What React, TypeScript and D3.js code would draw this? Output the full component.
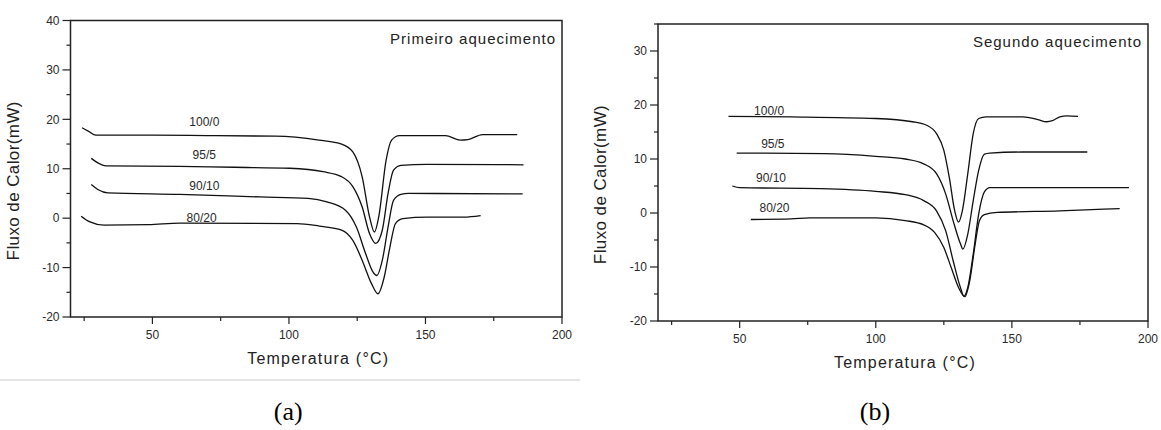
import * as d3 from 'd3'

// first heating (a): [temperature, heat flow]
const a100_0: [number, number][] = [
  [24.2, 18.3], [26.5, 17.6], [29.3, 16.8], [50, 16.8], [70, 16.7], [95, 16.6], [111, 15.8], [119.3, 15.0],
  [123.4, 13.4], [126.8, 8.4], [129.5, 0.3], [131.3, -2.8], [132.9, 0.3], [135.6, 11.8], [137.6, 15.8],
  [140.4, 16.7], [157.3, 16.7], [162.8, 15.8], [165.5, 15.9], [170.9, 16.9], [183.6, 16.9],
]
const a95_5: [number, number][] = [
  [27.6, 12.1], [30, 11.2], [33, 10.6], [60, 10.5], [80, 10.3], [100.3, 10.1], [112.5, 9.4], [119.3, 8.4],
  [123.4, 6.4], [126.8, 2.3], [129.5, -3.1], [131.8, -5.1], [134.2, -2.4], [136.3, 5.0], [138.3, 9.7],
  [141, 10.7], [150.5, 10.9], [185.9, 10.8],
]
const a90_10: [number, number][] = [
  [27.6, 6.8], [30, 5.8], [33.7, 5.1], [60, 4.8], [89.4, 4.3], [107, 4.0], [113.9, 3.3], [120.7, 1.6],
  [124.7, -1.8], [128.1, -7.2], [130.8, -10.9], [132.2, -11.6], [134.2, -8.5], [136.3, -1.8], [138.3, 3.6],
  [141, 4.8], [143.8, 5.0], [185.6, 4.9],
]
const a80_20: [number, number][] = [
  [23.9, 0.4], [26.9, -0.7], [32.3, -1.4], [48.6, -1.3], [60, -1.0], [103, -1.1], [111.1, -1.6], [119.3, -2.4],
  [123.4, -4.5], [126.8, -8.5], [130.2, -13.2], [132.6, -15.3], [134.9, -11.9], [137, -5.8], [139, -1.1],
  [141.7, -0.1], [150.5, 0.2], [164.1, 0.2], [170.2, 0.5],
]

// second heating (b)
const b100_0: [number, number][] = [
  [45.9, 17.9], [68.9, 17.8], [100, 17.5], [113.5, 16.9], [118.9, 16.2], [122.3, 14.7], [125, 11.6],
  [127, 6.6], [129, 0.4], [130.4, -1.7], [131.8, 0.4], [133.8, 7.3], [135.8, 14.7], [137.8, 17.5],
  [140.5, 17.8], [154, 17.8], [159.5, 17.3], [162.8, 16.9], [164.9, 17.1], [167.6, 17.8], [170.3, 18.0],
  [174.3, 17.9],
]
const b95_5: [number, number][] = [
  [48.9, 11.1], [81.1, 11.0], [100, 10.5], [110.8, 10.0], [117.6, 9.1], [122.3, 7.3], [125.7, 3.5],
  [128.4, -1.4], [131.1, -5.7], [132, -6.7], [133.8, -3.9], [135.8, 2.3], [137.8, 7.9], [139.9, 10.9],
  [141.9, 11.1], [154, 11.3], [177.7, 11.3],
]
const b90_10: [number, number][] = [
  [47.3, 5.0], [50, 4.7], [79.7, 4.5], [100, 4.0], [110.8, 3.4], [117.6, 2.3], [122.3, 0.4], [125.7, -3.3],
  [128.4, -8.8], [131.1, -13.8], [132.4, -15.4], [133.8, -13.8], [135.8, -7.6], [137.8, -0.2], [139.9, 3.9],
  [141.9, 4.7], [154, 4.7], [193, 4.7],
]
const b80_20: [number, number][] = [
  [54.1, -1.2], [68.9, -1.1], [75.7, -0.9], [100, -0.9], [110.8, -1.4], [117.6, -2.2], [121.6, -3.6],
  [125, -6.4], [127.7, -10.1], [130.4, -13.8], [132.7, -15.5], [134.5, -12.6], [136.5, -5.8], [138.1, -1.4],
  [139.9, -0.3], [144.6, 0.1], [167.6, 0.4], [183.8, 0.7], [189.6, 0.8],
]

const seriesNames = ['100/0', '95/5', '90/10', '80/20']
// label anchor (temperature, heat flow) per series
const labelsA: [number, number][] = [[69, 19.4], [69, 12.9], [69, 6.6], [68, 0.1]]
const labelsB: [number, number][] = [[60.8, 19.0], [62.2, 12.8], [61.5, 6.6], [62.8, 0.9]]

const xTicks = [50, 100, 150, 200]
const xMinor = [25, 75, 125, 175]

type PanelProps = {
  left: number
  right: number
  top: number
  bottom: number
  yDomain: [number, number]
  series: [number, number][][]
  labels: [number, number][]
  title: string
  tag: string
}

const font = 'Arial, "Liberation Sans", sans-serif'

const Panel = ({ left, right, top, bottom, yDomain, series, labels, title, tag }: PanelProps) => {
  const x = d3.scaleLinear().domain([20, 200]).range([left, right])
  const y = d3.scaleLinear().domain(yDomain).range([bottom, top])
  const line = d3.line<[number, number]>()
    .x(d => x(d[0]))
    .y(d => y(d[1]))
    .curve(d3.curveMonotoneX)

  const yMajor = d3.range(-20, yDomain[1] + 0.1, 10)
  const yMinor = d3.range(-15, yDomain[1] + 0.1, 10)
  const midX = (left + right) / 2

  return (
    <g>
      {/* frame */}
      <rect x={left} y={top} width={right - left} height={bottom - top} fill="none" stroke="#222" strokeWidth={1.5} />

      {/* y ticks */}
      {yMajor.map(v => (
        <g key={'ym' + v}>
          <line x1={left - 8} x2={left} y1={y(v)} y2={y(v)} stroke="#222" strokeWidth={1.2} />
          <text x={left - 11} y={y(v)} dy="0.35em" textAnchor="end" fontSize={12} fontFamily={font} fill="#2a2a2a">{v}</text>
        </g>
      ))}
      {yMinor.map(v => (
        <line key={'yn' + v} x1={left - 4} x2={left} y1={y(v)} y2={y(v)} stroke="#222" strokeWidth={1.2} />
      ))}

      {/* x ticks */}
      {xTicks.map(v => (
        <g key={'xm' + v}>
          <line x1={x(v)} x2={x(v)} y1={bottom} y2={bottom + 7} stroke="#222" strokeWidth={1.2} />
          <text x={x(v)} y={bottom + 18} dy="0.35em" textAnchor="middle" fontSize={12} fontFamily={font} fill="#2a2a2a">{v}</text>
        </g>
      ))}
      {xMinor.map(v => (
        <line key={'xn' + v} x1={x(v)} x2={x(v)} y1={bottom} y2={bottom + 4} stroke="#222" strokeWidth={1.2} />
      ))}

      {/* curves */}
      {series.map((s, i) => (
        <path key={i} d={line(s) || ''} fill="none" stroke="#111" strokeWidth={1.3} />
      ))}
      {labels.map((p, i) => (
        <text key={'l' + i} x={x(p[0])} y={y(p[1])} dy="0.35em" textAnchor="middle" fontSize={12} fontFamily={font} fill="#2a2a2a">
          {seriesNames[i]}
        </text>
      ))}

      <text x={right - 6} y={top + 23} textAnchor="end" fontSize={15} fontFamily={font} letterSpacing={1} fill="#222">{title}</text>

      {/* axis titles */}
      <text transform={`translate(${left - 52},${(top + bottom) / 2 + 12}) rotate(-90)`} textAnchor="middle" fontSize={17} fontFamily={font} letterSpacing={0.4} fill="#222">
        Fluxo de Calor(mW)
      </text>
      <text x={midX + 2} y={bottom + 47} textAnchor="middle" fontSize={16} fontFamily={font} letterSpacing={1.2} fill="#222">
        Temperatura (°C)
      </text>

      <text x={midX - 28} y={420} textAnchor="middle" fontSize={26} fontFamily='"Liberation Serif", "Times New Roman", serif' fill="#000">{tag}</text>
    </g>
  )
}

export default function App() {
  return (
    <svg width={1161} height={430} style={{ position: 'absolute', left: 0, top: 0, background: '#fff' }}>
      <rect width={1161} height={430} fill="#fff" />
      <line x1={0} x2={580} y1={380} y2={380} stroke="#ddd" strokeWidth={1.5} />
      <Panel
        left={70.5} right={562} top={20.5} bottom={317}
        yDomain={[-20, 40]}
        series={[a100_0, a95_5, a90_10, a80_20]}
        labels={labelsA}
        title="Primeiro aquecimento"
        tag="(a)"
      />
      <Panel
        left={658} right={1148} top={24} bottom={321}
        yDomain={[-20, 35]}
        series={[b100_0, b95_5, b90_10, b80_20]}
        labels={labelsB}
        title="Segundo aquecimento"
        tag="(b)"
      />
    </svg>
  )
}
